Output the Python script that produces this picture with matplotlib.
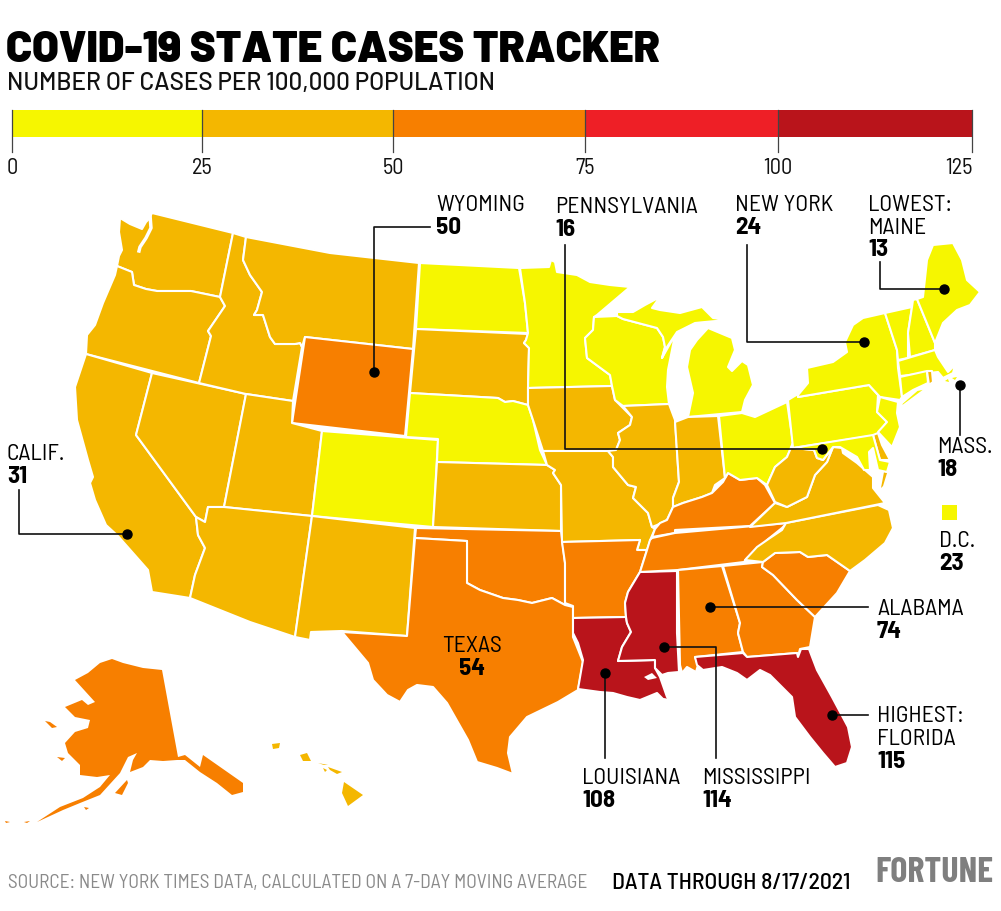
import numpy as np
import matplotlib
matplotlib.use('Agg')
import matplotlib.pyplot as plt
from matplotlib.patches import Polygon, Rectangle

# cases per 100k, printed values where the chart has them, the rest guessed from the colour
states = ['WA','OR','CA','NV','ID','MT','WY','UT','AZ','CO','NM','ND','SD','NE','KS','OK','TX',
          'MN','IA','MO','AR','LA','WI','IL','MS','MI','UP','IN','KY','TN','AL','OH','GA','FL',
          'SC','NC','VA','WV','PA','NY','LI','NJ','DE','MD','VT','NH','ME','MA','CT','RI','AK','HI']
values = [40,38,31,35,35,30,50,33,38,16,30,20,30,20,30,55,54,
          18,30,40,65,108,20,35,114,18,18,35,60,65,74,20,65,115,
          65,40,35,30,16,24,24,18,30,20,10,15,13,18,18,26,60,30]

bin_edges = [0, 25, 50, 75, 100, 125]
bin_colors = ['#f6f600', '#f4b700', '#f77f00', '#ee1f26', '#b9141b']
# where the ticks of the scale sit on the picture
scale_px = [12, 202, 393, 585, 778, 972]

# outlines
outlines = {
 'WA': [(120,218),(130,224),(142,229),(146,222),(149,219),(152,213),(233,233),(220,297),(191,291),(157,291),(146,289),(134,285),(132,272),(117,266),(119,256),(122,250),(119,232)],
 'OR': [(117,266),(132,272),(134,285),(146,289),(157,291),(191,291),(220,297),(225,306),(208,331),(211,336),(199,383),(86,354),(87,335),(95,325),(103,303),(115,275)],
 'CA': [(86,354),(152,373),(136,435),(196,517),(198,535),(205,548),(195,575),(190,598),(152,592),(148,570),(133,553),(118,536),(106,525),(95,500),(90,483),(93,477),(88,460),(77,420),(75,387)],
 'NV': [(152,373),(246,394),(224,507),(208,507),(205,522),(196,517),(136,435)],
 'ID': [(233,233),(246,237),(243,260),(250,275),(262,292),(257,310),(254,315),(263,315),(270,337),(275,344),(295,344),(300,343),(302,347),(293,401),(246,394),(199,383),(211,336),(208,331),(225,306),(220,297)],
 'MT': [(246,237),(330,253),(419,263),(413,349),(305,337),(302,347),(300,343),(295,344),(275,344),(270,337),(263,315),(254,315),(257,310),(262,292),(250,275),(243,260)],
 'WY': [(305,337),(413,349),(405,436),(292,423)],
 'UT': [(246,394),(293,401),(292,423),(322,431),(312,516),(224,507)],
 'AZ': [(224,507),(312,516),(295,637),(250,622),(190,598),(195,575),(205,548),(198,535),(196,517),(205,522),(208,507)],
 'CO': [(322,431),(438,440),(433,527),(312,516)],
 'NM': [(312,516),(415,528),(407,636),(342,631),(311,632),(310,640),(295,637)],
 'ND': [(420,263),(519,268),(525,303),(528,333),(416,329)],
 'SD': [(416,329),(528,334),(526,340),(524,343),(529,348),(528,388),(528,405),(513,401),(505,402),(498,398),(410,393)],
 'NE': [(410,393),(498,398),(505,402),(513,401),(528,405),(533,420),(540,450),(547,465),(437,462),(438,439),(406,437)],
 'KS': [(437,462),(547,465),(555,470),(553,473),(561,485),(561,531),(433,527)],
 'OK': [(416,528),(561,531),(565,563),(565,605),(552,598),(532,603),(518,600),(503,598),(480,590),(467,583),(467,541),(415,538)],
 'TX': [(415,538),(467,541),(467,583),(480,590),(503,598),(518,600),(532,603),(552,598),(565,605),(573,607),(573,637),(583,662),(578,690),(558,702),(527,717),(510,737),(508,753),(513,774),(497,768),(477,762),(468,740),(447,703),(433,687),(417,685),(408,690),(400,702),(387,695),(373,680),(368,663),(342,632),(407,636)],
 'MN': [(520,268),(549,267),(551,260),(555,262),(557,272),(577,275),(590,282),(610,285),(630,287),(597,315),(594,317),(593,330),(585,338),(587,358),(610,375),(612,386),(528,388),(529,348),(524,343),(526,340),(528,333),(525,303)],
 'IA': [(528,388),(612,386),(615,400),(632,417),(630,425),(618,433),(620,440),(616,450),(608,451),(543,451),(533,420),(528,405)],
 'MO': [(543,451),(608,451),(613,457),(613,467),(628,485),(636,487),(633,498),(648,513),(652,527),(655,529),(651,538),(647,550),(637,550),(640,540),(562,542),(561,485),(553,473),(555,470),(547,465)],
 'AR': [(562,542),(640,540),(637,550),(647,550),(640,572),(628,592),(625,603),(626,617),(573,618),(573,606),(565,603),(565,563)],
 'LA': [(573,618),(626,617),(627,623),(631,632),(622,647),(618,661),(655,660),(655,668),(660,677),(667,697),(670,700),(663,699),(657,693),(640,700),(627,697),(613,693),(600,692),(578,689),(583,660),(578,643),(573,633)],
 'WI': [(594,317),(617,316),(623,319),(657,328),(663,337),(665,347),(662,358),(675,335),(672,350),(668,370),(667,387),(669,404),(623,406),(615,400),(612,386),(610,375),(587,358),(585,338),(593,330)],
 'IL': [(623,406),(669,404),(675,420),(679,482),(673,498),(673,507),(667,520),(657,525),(652,527),(648,513),(633,498),(636,487),(628,485),(613,467),(613,457),(608,451),(616,450),(620,440),(618,433),(630,425),(632,417)],
 'MS': [(640,572),(677,571),(677,633),(679,672),(668,673),(662,675),(655,668),(655,660),(618,661),(622,647),(631,632),(627,623),(626,617),(625,603),(628,592)],
 'MI': [(708,328),(732,338),(735,350),(728,367),(732,371),(742,361),(748,365),(753,385),(745,400),(742,412),(688,417),(693,393),(687,367),(690,350),(697,340)],
 'UP': [(617,316),(623,319),(657,328),(663,337),(665,347),(662,358),(667,347),(677,332),(695,323),(705,322),(727,320),(713,318),(702,307),(680,313),(660,310),(652,308),(660,297),(645,305),(633,312),(617,312)],
 'IN': [(675,422),(688,417),(718,416),(725,478),(715,485),(712,493),(702,497),(683,503),(673,507),(673,498),(679,482)],
 'KY': [(652,537),(675,533),(675,530),(750,526),(775,503),(765,485),(757,478),(740,480),(728,473),(723,482),(712,493),(702,497),(683,503),(673,507),(667,520),(660,523),(655,529)],
 'TN': [(652,538),(675,533),(787,523),(782,528),(767,540),(757,550),(747,558),(744,562),(678,570),(640,572),(647,550),(650,540)],
 'AL': [(678,570),(722,566),(740,623),(738,633),(743,652),(695,657),(698,665),(696,672),(687,667),(682,673),(680,665)],
 'OH': [(719,416),(742,413),(755,417),(787,402),(793,443),(787,457),(775,467),(767,485),(757,478),(740,480),(728,473),(725,478)],
 'GA': [(723,566),(763,562),(762,567),(773,575),(797,600),(815,617),(810,647),(800,649),(798,657),(797,653),(747,657),(743,652),(738,633),(740,623)],
 'FL': [(695,657),(743,653),(747,657),(797,653),(798,657),(801,649),(809,649),(817,670),(832,697),(848,727),(852,747),(847,763),(835,767),(823,753),(810,737),(795,717),(792,697),(770,675),(760,670),(747,680),(737,673),(722,667),(703,670),(697,665)],
 'SC': [(763,562),(775,553),(800,552),(808,557),(827,555),(850,571),(837,593),(815,617),(797,600),(773,575),(762,567)],
 'NC': [(786,523),(878,505),(889,510),(893,528),(885,543),(865,560),(850,571),(827,555),(808,557),(800,552),(775,553),(763,562),(745,560),(757,547),(770,538),(782,530)],
 'VA': [(750,527),(775,503),(787,507),(807,497),(815,475),(827,462),(833,447),(842,448),(843,453),(857,463),(873,477),(873,488),(885,503),(786,523)],
 'WV': [(793,448),(814,450),(817,458),(823,460),(833,447),(827,462),(815,475),(807,497),(787,507),(775,502),(767,485),(775,467),(787,457),(793,443)],
 'PA': [(788,400),(798,394),(798,397),(869,385),(878,395),(877,412),(887,422),(877,435),(793,448)],
 'NY': [(798,395),(808,383),(807,368),(833,362),(847,352),(845,342),(853,325),(863,318),(885,313),(897,350),(898,368),(902,397),(900,400),(880,397),(869,385),(798,397)],
 'LI': [(900,408),(927,388),(917,390),(902,403)],
 'NJ': [(880,397),(898,402),(897,413),(900,427),(892,447),(878,432),(887,422),(877,412)],
 'DE': [(873,435),(878,433),(882,445),(890,460),(880,460)],
 'MD': [(793,448),(873,435),(880,460),(890,462),(887,472),(878,470),(873,448),(869,452),(870,470),(864,470),(857,457),(840,447),(833,447),(823,460),(817,458),(814,450)],
 'VT': [(885,313),(912,307),(908,333),(908,358),(898,360),(897,350)],
 'NH': [(912,307),(913,300),(917,299),(935,343),(935,350),(910,357),(908,333)],
 'ME': [(917,299),(923,297),(927,260),(933,245),(953,243),(962,260),(967,280),(980,292),(970,305),(957,310),(943,323),(935,343)],
 'MA': [(898,361),(935,350),(938,357),(948,372),(955,365),(953,373),(943,378),(938,372),(900,376)],
 'CT': [(900,377),(927,371),(928,383),(913,390),(902,397)],
 'RI': [(927,371),(932,371),(933,382),(929,385)],
 'AK': [(112,659),(123,663),(143,668),(162,670),(178,757),(185,755),(200,767),(203,755),(243,783),(243,792),(232,795),(217,783),(200,772),(185,760),(177,760),(163,761),(150,760),(143,767),(130,772),(133,760),(137,753),(128,757),(120,773),(100,795),(80,803),(63,810),(37,822),(60,807),(83,798),(100,787),(110,775),(97,777),(80,775),(80,765),(68,753),(65,743),(75,732),(88,728),(90,720),(75,717),(65,707),(82,700),(88,705),(95,702),(75,680),(88,673),(100,663)],
 'HI': [(344,782),(363,795),(348,806),(342,793)],
}
# extra pieces that belong to a state: islands, capes
extra_pieces = {
 'AK': [[(115,793),(127,780),(128,783),(122,795)],[(45,721),(50,722),(57,727),(52,728)],[(57,757),(65,758),(62,761)],
        [(5,821),(10,822),(6,823)],[(24,822),(30,821),(27,823)],[(84,807),(89,808),(86,810)]],
 'HI': [[(328,767),(342,772),(337,774),(330,770)],[(318,763),(328,765),(324,765)],[(300,755),(307,753),(311,761),(303,761)],
        [(272,744),(280,743),(279,748),(273,749)],[(323,768),(327,770),(325,772)]],
 'VA': [[(884,472),(887,473),(883,486),(881,488)]],
 'MA': [[(945,381),(948,379),(949,382)],[(952,378),(957,377),(955,380)]],
}
water = [[(644,677),(652,673),(657,678),(648,680)]]
puget = [(150,215),(151,228),(146,238),(140,247),(139,251)]

# callouts: dot, then the bend points of the leader
callouts = {
 'WY': [(374,372),(374,227),(430,227)],
 'PA': [(822,449),(565,449),(565,245)],
 'NY': [(864,342),(747,342),(747,245)],
 'ME': [(944,289),(880,289),(880,262)],
 'MA': [(960,385),(960,435)],
 'CA': [(127,534),(19,534),(19,490)],
 'AL': [(710,607),(868,607)],
 'FL': [(832,715),(868,715)],
 'LA': [(605,673),(605,758)],
 'MS': [(664,647),(716,647),(716,758)],
}
labels = [
 (436,205.5,'WYOMING','50'),(555,207.5,'PENNSYLVANIA','16'),(735,205.5,'NEW YORK','24'),
 (868,205.5,'LOWEST:\nMAINE','13'),(937,447.5,'MASS.','18'),(939,541.5,'D.C.','23'),
 (877,609.5,'ALABAMA','74'),(877,716.5,'HIGHEST:\nFLORIDA','115'),(582,778.5,'LOUISIANA','108'),
 (702,778.5,'MISSISSIPPI','114'),(7,454.5,'CALIF.','31'),
]

WIDE = ['Barlow', 'Liberation Sans']
SEMI = ['Barlow Semi Condensed', 'Liberation Sans']
COND = ['Barlow Condensed', 'Liberation Sans']
plt.rcParams['font.family'] = SEMI

def bin_color(v):
    return bin_colors[min(np.digitize(v, bin_edges) - 1, 4)]

fig = plt.figure(figsize=(10.01, 9.11), dpi=100)
ax = fig.add_axes([0, 0, 1, 1])
ax.set_xlim(0, 1001)
ax.set_ylim(911, 0)
ax.axis('off')

for name, v in zip(states, values):
    lw = 0 if name in ('AK', 'HI') else 1.5
    ax.add_patch(Polygon(outlines[name], closed=True, fc=bin_color(v), ec='white' if lw else 'none', lw=lw, joinstyle='round'))
    for piece in extra_pieces.get(name, []):
        ax.add_patch(Polygon(piece, closed=True, fc=bin_color(v), ec='none'))
for w in water:
    ax.add_patch(Polygon(w, closed=True, fc='white', ec='none'))
ax.plot(*zip(*puget), color='white', lw=2.5)

# D.C. square
ax.add_patch(Rectangle((942, 505), 15, 15, fc=bin_color(23), ec='none'))

for pts in callouts.values():
    ax.plot(*zip(*pts), color='#111111', lw=1.2, zorder=5)
    ax.plot(*pts[0], 'o', color='black', ms=6.5, zorder=6)

for x, y, name, val in labels:
    lines = name.split('\n')
    for i, line in enumerate(lines):
        ax.text(x, y + i * 23, line, fontsize=17, va='center', ha='left', color='black')
    ax.text(x, y + len(lines) * 22.5, val, fontsize=18, fontweight='bold', va='center', ha='left', color='black')
ax.text(472, 647, 'TEXAS', fontsize=17, va='center', ha='center')
ax.text(472, 669, '54', fontsize=18, fontweight='bold', va='center', ha='center')

ax.text(6, 51, 'COVID-19 STATE CASES TRACKER', fontsize=31, fontweight=900, va='center', ha='left', family=WIDE)
ax.text(7, 83, 'NUMBER OF CASES PER 100,000 POPULATION', fontsize=17.5, fontweight=500, va='center', ha='left', family=WIDE, color='#111111')
ax.text(8, 883, 'SOURCE: NEW YORK TIMES DATA, CALCULATED ON A 7-DAY MOVING AVERAGE', fontsize=14,
        color='#8a8a8a', va='center', ha='left')
ax.text(612, 883, 'DATA THROUGH 8/17/2021', fontsize=17, fontweight=500, color='black', va='center', ha='left')
ax.text(875, 873, 'FORTUNE', fontsize=26, fontweight='bold', color='#7f7f7f', va='center', ha='left', family=COND)

# colour scale
px = lambda v: np.interp(v, bin_edges, scale_px)
for lo, hi, c in zip(bin_edges[:-1], bin_edges[1:], bin_colors):
    ax.add_patch(Rectangle((px(lo), 110), px(hi) - px(lo), 27, fc=c, ec='none'))
for e in bin_edges:
    ax.plot([px(e), px(e)], [110, 152], color='#444444', lw=0.9)
    ha = 'right' if e == 125 else 'center'
    ax.text(px(e) + (1 if e == 125 else 0), 168, str(e), fontsize=16, ha=ha, va='center', color='#111111')

fig.savefig('out.png', dpi=100)
